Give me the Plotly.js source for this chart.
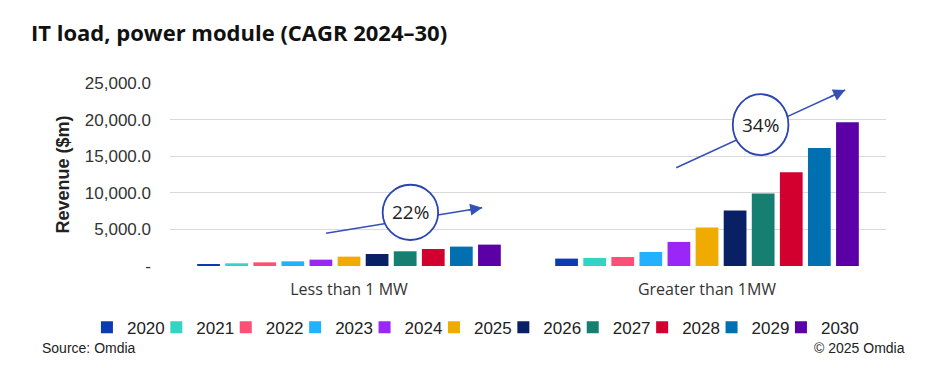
<!DOCTYPE html>
<html>
<head>
<meta charset="utf-8">
<script src="https://cdn.plot.ly/plotly-3.0.1.min.js"></script>
<style>html,body{margin:0;padding:0;background:#fff;}#chart{width:940px;height:368px;}</style>
</head>
<body>
<div id="chart"></div>
<script>
const categories = ['Less than 1 MW', 'Greater than 1MW'];
const years = ['2020','2021','2022','2023','2024','2025','2026','2027','2028','2029','2030'];
const lessThan1MW   = [270, 370, 500, 640, 870, 1280, 1640, 2010, 2320, 2650, 2920];
const greaterThan1MW = [1010, 1100, 1230, 1920, 3290, 5260, 7590, 9920, 12800, 16120, 19650];
const colors = ['#0a3bb0','#33d4c4','#ff4f74','#22b1ff','#9a27f7','#f0ab00','#0a2066','#167f72','#d1002f','#0070b0','#5a00a6'];
const yTickVals = [0, 5000, 10000, 15000, 20000, 25000];
const yTickText = ['-', '5,000.0', '10,000.0', '15,000.0', '20,000.0', '25,000.0'];
const cagrLabels = ['22%', '34%'];

const traces = years.map((yr, i) => ({
  type: 'bar',
  name: yr,
  x: categories,
  y: [lessThan1MW[i], greaterThan1MW[i]],
  marker: {color: colors[i], line: {width: 0}},
  hoverinfo: 'skip'
}));
// invisible legend spacer so the last legend label is not clipped
traces.push({type: 'bar', name: '\u00a0', x: [categories[1]], y: [null], visible: 'legendonly',
  marker: {color: 'rgba(0,0,0,0)'}, hoverinfo: 'skip'});

const arrowColor = '#3550b8';
const circleColor = '#2a44b0';
const font = 'Liberation Sans, Arial, sans-serif';

const layout = {
  width: 940, height: 368,
  margin: {l: 170, r: 54, t: 83, b: 102},
  paper_bgcolor: '#ffffff', plot_bgcolor: '#ffffff',
  barmode: 'group', bargap: 0.137, bargroupgap: 0.19,
  title: {
    text: '<b>IT load, power module (CAGR 2024–30)</b>',
    font: {family: 'Open Sans, sans-serif', size: 22, color: '#111111'},
    x: 31/940, xanchor: 'left', xref: 'container',
    y: 1 - 33/368, yanchor: 'middle', yref: 'container'
  },
  xaxis: {
    type: 'category', range: [-0.5, 1.5],
    tickfont: {family: 'Open Sans, sans-serif', size: 16, color: '#333333'},
    ticks: '', ticklabelstandoff: 12,
    showline: false, showgrid: false, zeroline: false, fixedrange: true
  },
  yaxis: {
    range: [0, 25000], tickvals: yTickVals, ticktext: yTickText,
    tickfont: {family: font, size: 17, color: '#333333'},
    ticks: '', ticklabelstandoff: 18,
    gridcolor: '#d9d9d9', gridwidth: 1, zeroline: false, showline: false,
    title: {text: '<b>Revenue ($m)</b>', font: {family: font, size: 18, color: '#222222'}, standoff: 10},
    fixedrange: true
  },
  showlegend: true,
  legend: {
    orientation: 'h', x: -0.116, xanchor: 'left', y: -0.337, yanchor: 'middle',
    font: {family: font, size: 17, color: '#222222'},
    traceorder: 'normal', itemclick: false, itemdoubleclick: false,
    entrywidth: 24.4, entrywidthmode: 'pixels', bgcolor: 'rgba(0,0,0,0)'
  },
  shapes: [
    {type: 'line', xref: 'x', yref: 'y', x0: -0.064, y0: 4467, x1: 0.372, y1: 7965, line: {color: arrowColor, width: 1.5}, layer: 'above'},
    {type: 'circle', xref: 'x', yref: 'y', x0: 0.094, x1: 0.249, y0: 3550, y1: 11100, fillcolor: '#ffffff', line: {color: circleColor, width: 1.8}, layer: 'above'},
    {type: 'line', xref: 'x', yref: 'y', x0: 0.914, y0: 13429, x1: 1.386, y1: 24044, line: {color: arrowColor, width: 1.5}, layer: 'above'},
    {type: 'circle', xref: 'x', yref: 'y', x0: 1.072, x1: 1.2275, y0: 15150, y1: 23470, fillcolor: '#ffffff', line: {color: circleColor, width: 1.8}, layer: 'above'}
  ],
  annotations: [
    {xref: 'x', yref: 'y', x: 0.1715, y: 7330, text: cagrLabels[0], showarrow: false, font: {family: 'Open Sans, sans-serif', size: 19, color: '#222222'}},
    {xref: 'x', yref: 'y', x: 1.15, y: 19310, text: cagrLabels[1], showarrow: false, font: {family: 'Open Sans, sans-serif', size: 19, color: '#222222'}},
    {xref: 'x', yref: 'y', axref: 'x', ayref: 'y', x: 0.372, y: 7965, ax: 0.33, ay: 7630, text: '', showarrow: true, arrowhead: 2, arrowsize: 1.6, arrowwidth: 1.5, arrowcolor: arrowColor},
    {xref: 'x', yref: 'y', axref: 'x', ayref: 'y', x: 1.386, y: 24044, ax: 1.34, ay: 23000, text: '', showarrow: true, arrowhead: 2, arrowsize: 1.6, arrowwidth: 1.5, arrowcolor: arrowColor},
    {xref: 'paper', yref: 'paper', x: -0.181, y: -0.45, xanchor: 'left', yanchor: 'middle', text: 'Source: Omdia', showarrow: false, font: {family: font, size: 14, color: '#222222'}},
    {xref: 'paper', yref: 'paper', x: 1.0297, y: -0.45, xanchor: 'right', yanchor: 'middle', text: '© 2025 Omdia', showarrow: false, font: {family: font, size: 14, color: '#222222'}}
  ]
};

Plotly.newPlot('chart', traces, layout, {displayModeBar: false, responsive: false});
</script>
</body>
</html>
